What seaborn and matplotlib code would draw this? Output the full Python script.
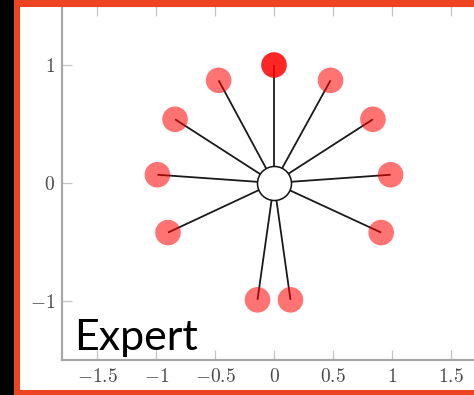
import matplotlib
matplotlib.use("Agg")
import matplotlib.pyplot as plt
from matplotlib.patches import Rectangle
import seaborn as sns
import pandas as pd

# Star layout: one hub node at the origin linked to eleven outer nodes
hub_x = [0.0]
hub_y = [0.0]
node_x = [0.00, -0.47, 0.48, -0.84, 0.84, -0.99, 0.99, -0.90, 0.91, -0.14, 0.14]
node_y = [1.00, 0.87, 0.87, 0.54, 0.54, 0.07, 0.07, -0.42, -0.42, -0.99, -0.99]
node_alpha = [0.85, 0.55, 0.55, 0.55, 0.55, 0.55, 0.55, 0.55, 0.55, 0.55, 0.55]
x_ticks = [-1.5, -1.0, -0.5, 0.0, 0.5, 1.0, 1.5]
x_tick_labels = ["$-1.5$", "$-1$", "$-0.5$", "$0$", "$0.5$", "$1$", "$1.5$"]
y_ticks = [-1.0, 0.0, 1.0]
y_tick_labels = ["$-1$", "$0$", "$1$"]
caption = "Expert"

sns.set_style("ticks")
plt.rcParams["mathtext.fontset"] = "cm"

W, H = 474, 395
fig = plt.figure(figsize=(W / 100, H / 100), dpi=100)
fig.patch.set_facecolor("white")

# axes box in pixels: left 62, right 486 (runs past the frame), top 6, bottom 360
ax = fig.add_axes([62 / W, (H - 360) / H, 424 / W, 354 / H])
ax.set_xlim(-1.8, 1.8)
ax.set_ylim(-1.5, 1.5)

nodes = pd.DataFrame({"x": node_x, "y": node_y, "alpha": node_alpha})
hub = pd.DataFrame({"x": hub_x, "y": hub_y})

# edges from the hub to each node
for nx, ny in zip(node_x, node_y):
    ax.plot([hub_x[0], nx], [hub_y[0], ny], color="#1a1a1a", lw=1.3, zorder=1,
            solid_capstyle="butt")

for a, grp in nodes.groupby("alpha"):
    sns.scatterplot(data=grp, x="x", y="y", ax=ax, s=340, color="#ff0000",
                    alpha=a, edgecolor="none", linewidth=0, zorder=2, legend=False)

sns.scatterplot(data=hub, x="x", y="y", ax=ax, s=600, color="white",
                edgecolor="#111111", linewidth=1.1, zorder=3, legend=False)

ax.set_xlabel("")
ax.set_ylabel("")
ax.set_xticks(x_ticks)
ax.set_xticklabels(x_tick_labels)
ax.set_yticks(y_ticks)
ax.set_yticklabels(y_tick_labels)
ax.tick_params(direction="in", length=7, width=0.9, color="#c4c4c4",
               labelcolor="#4a4a4a", labelsize=14, top=True, right=True, pad=5)
for sp in ax.spines.values():
    sp.set_color("#a8a8a8")
    sp.set_linewidth(1.6)

ax.text(74 / W, (H - 350) / H, caption, transform=fig.transFigure,
        family="Lato", fontsize=31, color="black", ha="left", va="baseline",
        zorder=10)

# slide frame: dark strip at the left, orange-red border around the panel
def px_rect(x0, y0, x1, y1, color):
    fig.patches.append(Rectangle((x0 / W, 1 - y1 / H), (x1 - x0) / W, (y1 - y0) / H,
                                 transform=fig.transFigure, facecolor=color,
                                 edgecolor="none", zorder=20))

px_rect(0, 0, 14, H, "black")
px_rect(14, 0, W, 7, "#ee4422")
px_rect(14, 0, 20, H, "#ee4422")
px_rect(14, 390, W, H, "#ee4422")

fig.savefig("out.png", dpi=100)
